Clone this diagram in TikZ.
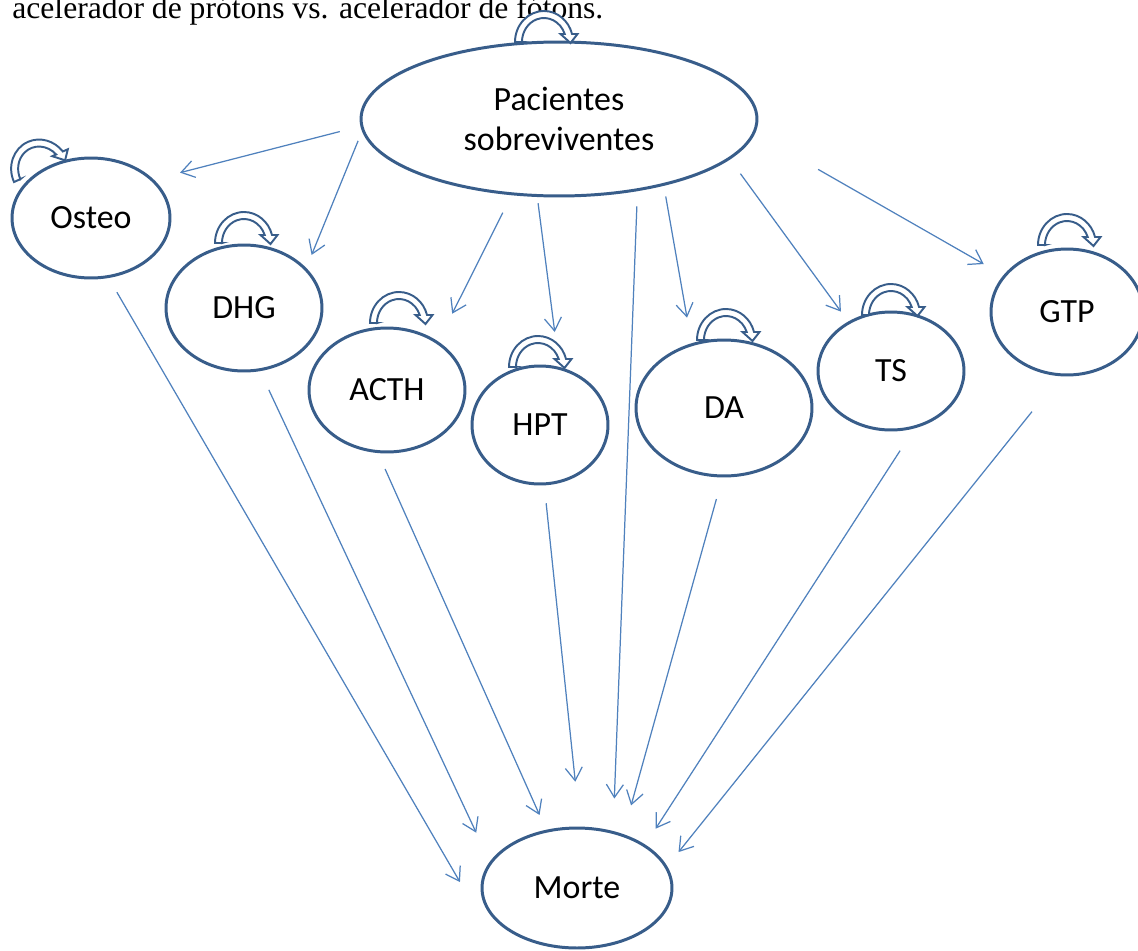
\documentclass[tikz,border=0pt]{standalone}
\usepackage{fontspec}
\setmainfont{Carlito}
\newfontfamily\timesfont{Liberation Serif}
\usetikzlibrary{shapes.geometric,arrows.meta}

\definecolor{nodeblue}{RGB}{56,93,138}
\definecolor{linkblue}{RGB}{79,129,189}

\tikzset{
  estado/.style={ellipse, draw=nodeblue, line width=1.7pt, fill=white, inner sep=0pt, outer sep=0pt,
    font=\fontsize{19.3}{23}\selectfont, align=center},
  link/.style={-{Straight Barb[length=2.6mm,width=3.4mm]}, draw=linkblue, line width=0.7pt},
  selfarrow/.style={draw=nodeblue, fill=white, line width=1.1pt}
}

% curved arrow sitting on top of a state
\newcommand{\selfloop}[4]{%
  \begin{scope}[shift={(#1.center)}, x=0.02cm, y=0.02cm, shift={(#2,#3)}, rotate=#4]
    \filldraw[selfarrow] (7,0) -- (0,0) arc[start angle=180, end angle=15, x radius=29, y radius=31]
      -- (62.5,8) -- (55.5,-1) -- (45.5,8) -- (49.7,8)
      arc[start angle=19.5, end angle=180, x radius=22, y radius=24] -- cycle;
  \end{scope}}

\begin{document}
\begin{tikzpicture}[x=0.02cm, y=-0.02cm]
  % Page frame
  \clip (0,0) rectangle (1138,950);
  \fill[white] (0,0) rectangle (1138,950);
  % Text line cut by the top edge
  \node[anchor=base west, inner sep=0pt, font={\timesfont\fontsize{18}{21}\selectfont}] (caption) at (12,18)
    {acelerador de prótons vs. acelerador de fótons.};
  % States
  \node[estado, minimum width=7.92cm, minimum height=3.08cm] (pac) at (559,119) {Pacientes\\sobreviventes};
  \node[estado, minimum width=3.16cm, minimum height=2.4cm] (osteo) at (91,218) {Osteo};
  \node[estado, minimum width=3.12cm, minimum height=2.52cm] (dhg) at (244,308) {DHG};
  \node[estado, minimum width=3.12cm, minimum height=2.48cm] (acth) at (387,390) {ACTH};
  \node[estado, minimum width=2.72cm, minimum height=2.36cm] (hpt) at (540,425) {HPT};
  \node[estado, minimum width=3.52cm, minimum height=2.72cm] (da) at (724,408) {DA};
  \node[estado, minimum width=2.92cm, minimum height=2.36cm] (ts) at (891,371) {TS};
  \node[estado, minimum width=3.04cm, minimum height=2.52cm] (gtp) at (1067,312) {GTP};
  \node[estado, minimum width=3.8cm, minimum height=2.4cm] (morte) at (577,888) {Morte};
  % Staying in the same state
  \selfloop{pac}{-44}{77}{0}
  \selfloop{osteo}{-77}{36}{24}
  \selfloop{dhg}{-29}{65}{0}
  \selfloop{acth}{-17}{67}{0}
  \selfloop{hpt}{-31}{58}{0}
  \selfloop{da}{-27}{68}{0}
  \selfloop{ts}{-29}{56}{0}
  \selfloop{gtp}{-29}{67}{0}
  % From the survivors
  \draw[link, shorten <=0.456cm, shorten >=0.58cm] (pac.182.4) -- (osteo.32.2);
  \draw[link, shorten <=0.25cm, shorten >=0.314cm] (pac.183.2) -- (dhg.32);
  \draw[link, shorten <=0.422cm, shorten >=0.652cm] (pac.238.4) -- (acth.43.8);
  \draw[link, shorten <=0.156cm, shorten >=0.736cm] (pac.254.9) -- (hpt.71.9);
  \draw[link, shorten <=0.246cm, shorten >=0.55cm] (pac.-32.3) -- (da.117.9);
  \draw[link, shorten <=0.38cm, shorten >=0.276cm] (pac.-13.1) -- (ts.131.2);
  \draw[link, shorten <=1.482cm, shorten >=0.482cm] (pac.-4.2) -- (gtp.150);
  \draw[link, shorten <=0.334cm, shorten >=0.68cm] (pac.-42.8) -- (morte.57.8);
  % Into death
  \draw[link, shorten <=0.362cm, shorten >=0.44cm] (osteo.-74.2) -- ([shift={(-11,13)}]morte.west);
  \draw[link, shorten <=0.444cm, shorten >=0.674cm] (dhg.-76.7) -- (morte.164.2);
  \draw[link, shorten <=0.384cm, shorten >=0.354cm] (acth.-99.1) -- (morte.118.2);
  \draw[link, shorten <=0.39cm, shorten >=0.932cm] (hpt.-86.1) -- (morte.87.3);
  \draw[link, shorten <=0.478cm, shorten >=0.624cm] (da.-91.6) -- (morte.49.9);
  \draw[link, shorten <=0.576cm, shorten >=0.408cm] (ts.-66) -- (morte.32.5);
  \draw[link, shorten <=0.944cm, shorten >=0.394cm] (gtp.-95.3) -- (morte.13.3);
\end{tikzpicture}
\end{document}
